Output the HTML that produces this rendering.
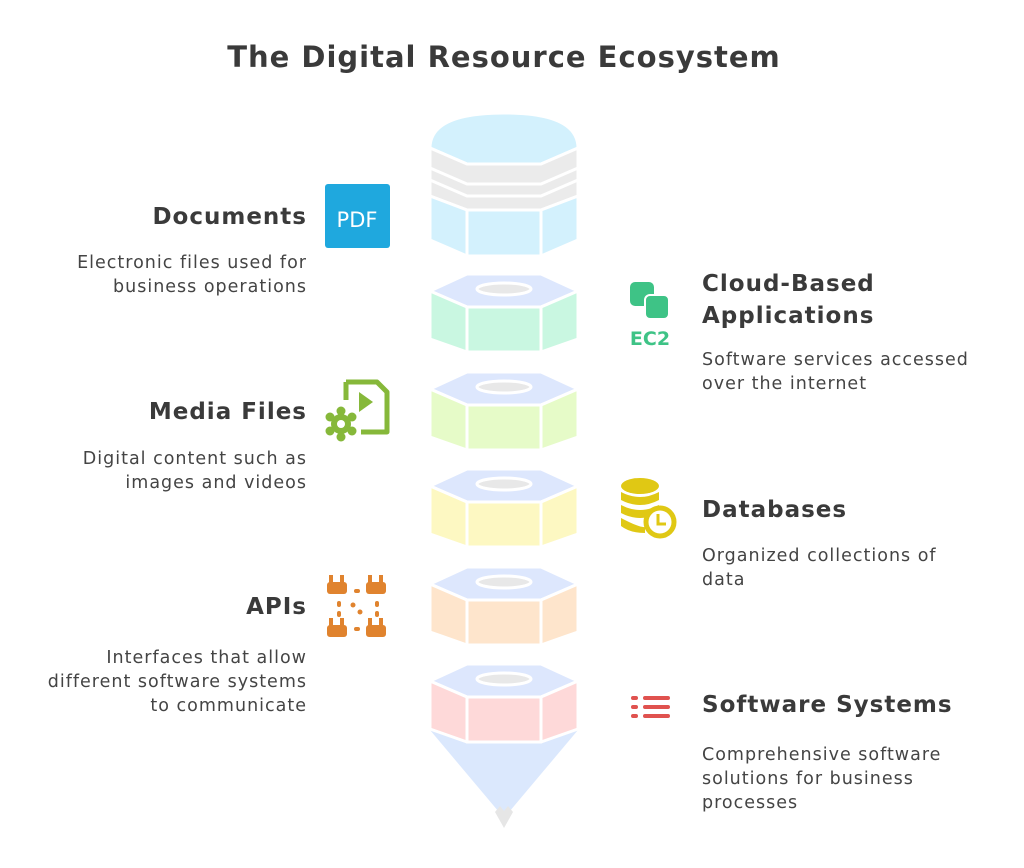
<!DOCTYPE html>
<html><head><meta charset="utf-8"><style>
body{margin:0;width:1024px;height:868px;background:#fff;font-family:"DejaVu Sans",sans-serif;position:relative;overflow:hidden}
.t{position:absolute;font-weight:bold;color:#3a3a3a;font-size:23px;letter-spacing:1px;white-space:nowrap}
.d{position:absolute;color:#444;font-size:17.5px;letter-spacing:1px;line-height:24px;white-space:nowrap}
.r{text-align:right}
.r.t,.r.d{margin-right:-1px}
</style></head><body>
<div class="t" style="left:0;width:1008px;text-align:center;top:40px;font-size:29px">The Digital Resource Ecosystem</div>

<div class="t r" style="right:718px;top:204px">Documents</div>
<div class="d r" style="right:718px;top:251px">Electronic files used for<br>business operations</div>
<div class="t r" style="right:718px;top:399px">Media Files</div>
<div class="d r" style="right:718px;top:447px">Digital content such as<br>images and videos</div>
<div class="t r" style="right:718px;top:594px">APIs</div>
<div class="d r" style="right:718px;top:646px">Interfaces that allow<br>different software systems<br>to communicate</div>

<div class="t" style="left:702px;top:268px;line-height:32px">Cloud-Based<br>Applications</div>
<div class="d" style="left:702px;top:348px">Software services accessed<br>over the internet</div>
<div class="t" style="left:702px;top:497px">Databases</div>
<div class="d" style="left:702px;top:544px">Organized collections of<br>data</div>
<div class="t" style="left:702px;top:692px">Software Systems</div>
<div class="d" style="left:702px;top:743px">Comprehensive software<br>solutions for business<br>processes</div>

<svg width="1024" height="868" style="position:absolute;left:0;top:0" xmlns="http://www.w3.org/2000/svg">
<g stroke="#fff" stroke-width="3" stroke-linejoin="round">
<path d="M430,730 L504,818 L578,730 Z" fill="#dbe8fd" stroke="none"/>
<path d="M495,812 L500,806 L504,811 L508,806 L513,812 L504,828 Z" fill="#e6e6e6" stroke="none"/>
<path d="M430,148 Q430,113 504,113 Q578,113 578,148 L541,164 L467,164 Z" fill="#d3f1fd"/>
<path d="M430,148 L467,164 L541,164 L578,148 L578,196 L541,210 L467,210 L430,196 Z" fill="#ebebeb"/>
<path d="M430,168 L467,184 L541,184 L578,168 M430,180 L467,196 L541,196 L578,180" fill="none"/>
<path d="M430,196 L467,210 L467,256 L430,240 Z" fill="#d3f1fd"/>
<rect x="467" y="210" width="74" height="46" fill="#d3f1fd"/>
<path d="M578,196 L541,210 L541,256 L578,240 Z" fill="#d3f1fd"/>
</g>
<defs>
<g id="nut">
<path d="M467,0 L541,0 L578,17 L541,33 L467,33 L430,17 Z" fill="#dde7fd"/>
<path d="M430,17 L467,33 L467,78 L430,65 Z"/>
<rect x="467" y="33" width="74" height="45"/>
<path d="M578,17 L541,33 L541,78 L578,65 Z"/>
<ellipse cx="504" cy="15" rx="27" ry="6" fill="#e8e8e8"/>
</g>
</defs>
<g stroke="#fff" stroke-width="3" stroke-linejoin="round">
<use href="#nut" y="274" fill="#c9f7e1"/>
<use href="#nut" y="372" fill="#e6fbc8"/>
<use href="#nut" y="469" fill="#fdf8c2"/>
<use href="#nut" y="567" fill="#fee5cc"/>
<use href="#nut" y="664" fill="#fed9d9"/>
</g>
<rect x="325" y="184" width="65" height="64" rx="3" fill="#1fa8de"/>
<text x="357" y="227" font-family="DejaVu Sans" font-size="21" fill="#fff" text-anchor="middle">PDF</text>
<path d="M346,382 L377,382 L387,392 L387,432 L361,432" fill="none" stroke="#86b83a" stroke-width="5" stroke-linejoin="round"/>
<path d="M346,382 L346,400" fill="none" stroke="#86b83a" stroke-width="5"/>
<path d="M359,392 L373,402 L359,412 Z" fill="#86b83a"/>
<circle cx="341" cy="424" r="10" fill="#86b83a"/>
<g fill="#86b83a"><circle cx="341" cy="411" r="4.5"/><circle cx="341" cy="437" r="4.5"/><circle cx="330" cy="417" r="4.5"/><circle cx="352" cy="417" r="4.5"/><circle cx="330" cy="431" r="4.5"/><circle cx="352" cy="431" r="4.5"/></g>
<circle cx="341" cy="424" r="4" fill="#fff"/>
<rect x="630" y="282" width="24" height="24" rx="5" fill="#3ec386"/>
<rect x="645" y="295" width="24" height="24" rx="5" fill="#3ec386" stroke="#fff" stroke-width="2"/>
<text x="650" y="345" font-family="DejaVu Sans" font-weight="bold" font-size="19" fill="#3ec386" text-anchor="middle">EC2</text>
<g fill="#e0c814">
<ellipse cx="640" cy="486" rx="19" ry="8"/>
<path d="M621,492 Q640,502 659,492 L659,500 Q640,510 621,500 Z"/>
<path d="M621,505 Q640,515 659,505 L659,513 Q640,523 621,513 Z"/>
<path d="M621,518 Q640,528 645,527 L645,533 Q630,533 621,526 Z"/>
</g>
<circle cx="660" cy="522" r="14" fill="#fff" stroke="#e0c814" stroke-width="5"/>
<path d="M658,514 L658,524 L666,524" fill="none" stroke="#e0c814" stroke-width="3"/>
<g fill="#e0832e">
<rect x="327" y="582" width="20" height="12" rx="3"/><rect x="329" y="575" width="4" height="9"/><rect x="340" y="575" width="4" height="9"/>
<rect x="366" y="582" width="20" height="12" rx="3"/><rect x="368" y="575" width="4" height="9"/><rect x="379" y="575" width="4" height="9"/>
<rect x="327" y="625" width="20" height="12" rx="3"/><rect x="329" y="618" width="4" height="9"/><rect x="340" y="618" width="4" height="9"/>
<rect x="366" y="625" width="20" height="12" rx="3"/><rect x="368" y="618" width="4" height="9"/><rect x="379" y="618" width="4" height="9"/>
<rect x="354" y="589" width="6" height="4" rx="2"/><rect x="354" y="627" width="6" height="4" rx="2"/>
<rect x="337" y="601" width="4" height="6" rx="2"/><rect x="337" y="611" width="4" height="6" rx="2"/>
<rect x="375" y="601" width="4" height="6" rx="2"/><rect x="375" y="611" width="4" height="6" rx="2"/>
<circle cx="353" cy="605" r="2.5"/><circle cx="360" cy="612" r="2.5"/>
</g>
<g stroke="#e0524f" stroke-width="4" stroke-linecap="round">
<path d="M633,698 L636,698 M645,698 L668,698 M633,707 L636,707 M645,707 L668,707 M633,716 L636,716 M645,716 L668,716"/>
</g>
</svg>
</body></html>
